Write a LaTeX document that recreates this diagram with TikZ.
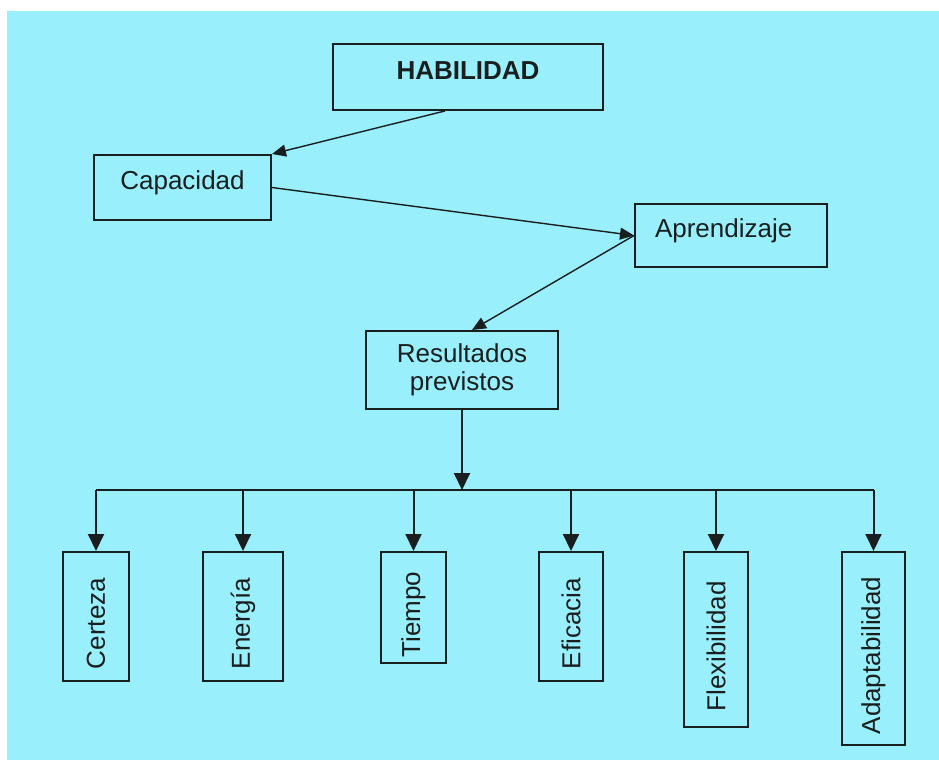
\documentclass[tikz,border=0pt]{standalone}
\usepackage{fontspec}
\setmainfont{Liberation Sans}
\usepackage{graphicx}
\usetikzlibrary{arrows.meta,calc}
\definecolor{skyfill}{RGB}{153,240,252}
\definecolor{inkline}{RGB}{25,30,30}
\newcommand{\vtxt}[1]{\raisebox{-3.5pt}[\height][0pt]{\rotatebox{90}{#1}}}
\tikzset{
  box/.style={draw=inkline,line width=1pt,inner sep=0pt,text=inkline,font=\fontsize{13}{14}\selectfont},
  hbox/.style={box,text height=10pt,text depth=8pt},
  vbox/.style={box},
  conn/.style={draw=inkline,line width=1pt},
  arr/.style={conn,-{Triangle[length=8.5pt,width=8pt]}},
  darr/.style={draw=inkline,line width=0.7pt,-{Triangle[length=7pt,width=6pt]}}
}
\begin{document}
\begin{tikzpicture}[x=0.5pt,y=-0.5pt]
    \useasboundingbox (0,0) rectangle (939,760);
    \fill[skyfill] (7,11) rectangle (939,760);
    \node[hbox,minimum width=135pt,minimum height=33pt] (hab) at (468,77) {\textbf{HABILIDAD}};
    \node[hbox,minimum width=88.5pt,minimum height=32.5pt] (cap) at (182.5,187.5) {Capacidad};
    \node[hbox,minimum width=96pt,minimum height=31.5pt,text width=76pt,align=left,inner xsep=10pt] (apr) at (731,235.5) {Aprendizaje};
    \node[box,minimum width=96pt,minimum height=39pt,align=center] (res) at (462,370) {Resultados\\previstos};
    \node[vbox,minimum width=33pt,minimum height=64.5pt] (cer) at (96,616.5) {\vtxt{Certeza}};
    \node[vbox,minimum width=40pt,minimum height=64.5pt] (ene) at (243,616.5) {\vtxt{Energía}};
    \node[vbox,minimum width=32.5pt,minimum height=55.5pt] (tie) at (413.5,607.5) {\vtxt{Tiempo}};
    \node[vbox,minimum width=32pt,minimum height=64.5pt] (efi) at (571,616.5) {\vtxt{Eficacia}};
    \node[vbox,minimum width=32pt,minimum height=87.5pt] (fle) at (716,639.5) {\vtxt{Flexibilidad}};
    \node[vbox,minimum width=31.5pt,minimum height=96.5pt] (ada) at (873.5,648.5) {\vtxt{Adaptabilidad}};
    \coordinate (bus) at ($(res.south)+(0,80)$);
    \draw[darr] ($(hab.south west)!0.415!(hab.south east)$) -- (cap.north east);
    \draw[darr] (cap.east) -- (apr.west);
    \draw[darr] (apr.west) -- ($(res.north)+(10,0)$);
    \draw[arr] (res.south) -- (bus);
    \draw[conn] (cer.north |- bus) -- (ada.north |- bus);
    \draw[arr] (cer.north |- bus) -- (cer.north);
    \draw[arr] (ene.north |- bus) -- (ene.north);
    \draw[arr] (tie.north |- bus) -- (tie.north);
    \draw[arr] (efi.north |- bus) -- (efi.north);
    \draw[arr] (fle.north |- bus) -- (fle.north);
    \draw[arr] (ada.north |- bus) -- (ada.north);
\end{tikzpicture}
\end{document}
